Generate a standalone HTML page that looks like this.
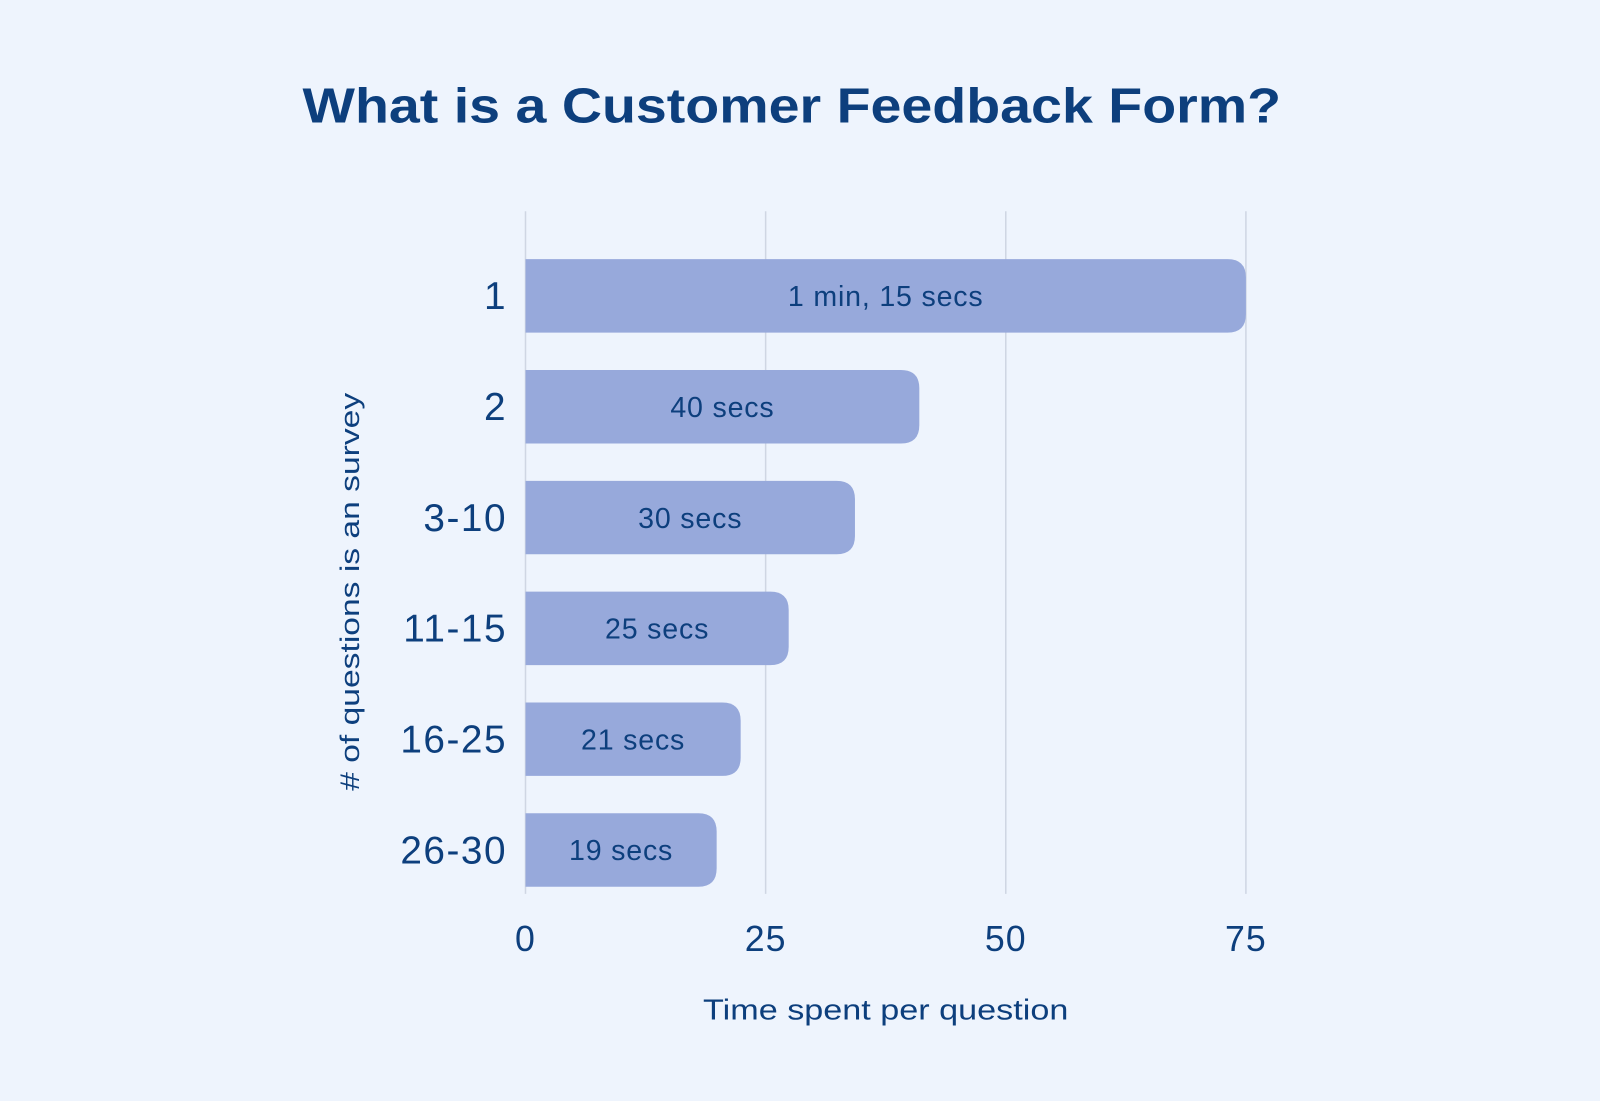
<!DOCTYPE html>
<html><head><meta charset="utf-8">
<style>
html,body{margin:0;padding:0;background:#eef4fd;}
svg{display:block;font-family:"Liberation Sans",sans-serif;}
</style></head>
<body>
<svg id="chart" width="1600" height="1101" viewBox="0 0 1600 1101">
<rect width="1600" height="1101" fill="#eef4fd"/>
<g transform="scale(1.0204)">
<text x="776" y="120" text-anchor="middle" font-size="48" font-weight="bold" fill="#0d3f7d" textLength="959" lengthAdjust="spacingAndGlyphs">What is a Customer Feedback Form?</text>
<g id="grid"></g>
<g id="bars"></g>
<g id="ylabels"></g>
<g id="xticks"></g>
<text x="868" y="999" text-anchor="middle" font-size="28" fill="#0d3f7d" textLength="358" lengthAdjust="spacingAndGlyphs">Time spent per question</text>
<text transform="translate(352,580) rotate(-90)" text-anchor="middle" font-size="26" fill="#0d3f7d" textLength="390" lengthAdjust="spacingAndGlyphs"># of questions is an survey</text>
</g>
</svg>
<script>
const categories = ["1","2","3-10","11-15","16-25","26-30"];
const values = [75, 41, 34.3, 27.4, 22.4, 19.9];
const valueLabels = ["1 min, 15 secs","40 secs","30 secs","25 secs","21 secs","19 secs"];
const ticks = [0, 25, 50, 75];

const ns = "http://www.w3.org/2000/svg";
const x0 = 515, pxPerUnit = (1221 - 515) / 75;
const xs = v => x0 + v * pxPerUnit;
const bandTop = 254, bandStep = 108.6, barH = 72;
const ys = i => bandTop + i * bandStep;
const grid = document.getElementById("grid"), bars = document.getElementById("bars"),
  yl = document.getElementById("ylabels"), xt = document.getElementById("xticks");
function mk(tag, attrs){const e=document.createElementNS(ns,tag);for(const k in attrs)e.setAttribute(k,attrs[k]);return e;}

ticks.forEach(t=>{
  const l = mk("line",{x1:xs(t),x2:xs(t),y1:207,y2:876,stroke:"#cfd6e3","stroke-width":1.5});
  
  
  grid.appendChild(l);
  const tx = mk("text",{x:xs(t),y:932,"text-anchor":"middle","font-size":35,"letter-spacing":1,fill:"#0d3f7d"});
  tx.textContent = t;
  
  
  xt.appendChild(tx);
});

categories.forEach((c,i)=>{
  const y = ys(i), w = xs(values[i]) - x0, r = 18;
  const d = `M${x0},${y} H${x0+w-r} Q${x0+w},${y} ${x0+w},${y+r} V${y+barH-r} Q${x0+w},${y+barH} ${x0+w-r},${y+barH} H${x0} Z`;
  const p = mk("path",{d:d,fill:"#97a9db"});
  
  
  bars.appendChild(p);
  const vt = mk("text",{x:x0+w/2,y:y+barH/2+10,"text-anchor":"middle","font-size":28,"letter-spacing":0.8,fill:"#0d3f7d"});
  vt.textContent = valueLabels[i];
  
  
  bars.appendChild(vt);
  const ct = mk("text",{x:497,y:y+barH/2+13,"text-anchor":"end","font-size":38,"letter-spacing":1.5,fill:"#0d3f7d"});
  ct.textContent = c;
  
  
  yl.appendChild(ct);
});
</script>
</body></html>
